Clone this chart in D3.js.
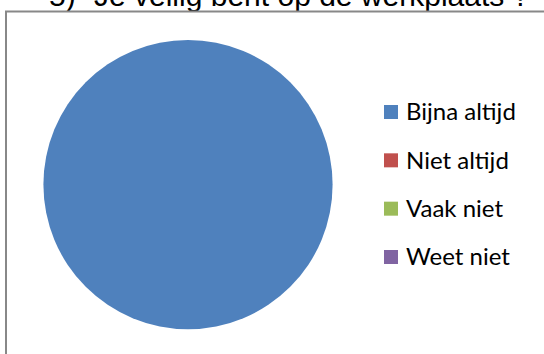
<!DOCTYPE html>
<html>
<head>
<meta charset="utf-8">
<script src="https://cdn.jsdelivr.net/npm/d3@7"></script>
<style>
  html, body { margin: 0; padding: 0; background: #fff; }
  svg { display: block; }
</style>
</head>
<body>
<svg id="chart" width="544" height="354"></svg>
<script>
// Answers to question 5 and their share of respondents
const categories = ["Bijna altijd", "Niet altijd", "Vaak niet", "Weet niet"];
const values = [100, 0, 0, 0];
const colors = ["#4F81BD", "#C0504D", "#9BBB59", "#8064A2"];
const title = "5)   \u201CJe veilig bent op de werkplaats ?";

const svg = d3.select("#chart");

// Question heading above the chart frame
svg.append("text")
  .attr("x", 49)
  .attr("y", 6)
  .attr("font-family", "Liberation Sans, Arial, sans-serif")
  .attr("font-size", 30)
  .attr("fill", "#000")
  .text(title);

// Chart frame
svg.append("rect")
  .attr("x", 6)
  .attr("y", 11.5)
  .attr("width", 560)
  .attr("height", 400)
  .attr("fill", "#fff")
  .attr("stroke", "#888")
  .attr("stroke-width", 2);

const color = d3.scaleOrdinal().domain(categories).range(colors);

const pie = d3.pie().sort(null).value(d => d.value);
const arc = d3.arc().innerRadius(0).outerRadius(144.6);
const data = categories.map((c, i) => ({ name: c, value: values[i] }));

svg.append("g")
  .attr("transform", "translate(188,184.6)")
  .selectAll("path")
  .data(pie(data))
  .join("path")
  .attr("d", arc)
  .attr("fill", d => color(d.data.name));

// Legend
const legendY = d3.scalePoint().domain(categories).range([112, 257]);
const legend = svg.append("g")
  .selectAll("g")
  .data(categories)
  .join("g")
  .attr("transform", d => `translate(384,${legendY(d)})`);

legend.append("rect")
  .attr("x", 0)
  .attr("y", -7)
  .attr("width", 14)
  .attr("height", 14)
  .attr("fill", d => color(d));

legend.append("text")
  .attr("x", 22)
  .attr("y", 0)
  .attr("dy", "0.35em")
  .attr("font-family", "Lato, Carlito, Calibri, sans-serif")
  .attr("font-size", 24)
  .attr("fill", "#000")
  .text(d => d);
</script>
</body>
</html>
